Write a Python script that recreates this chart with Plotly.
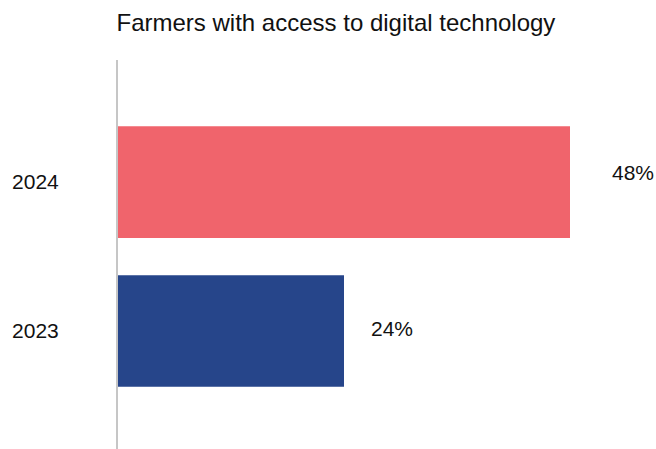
import plotly.graph_objects as go

years = ["2023", "2024"]
values = [24, 48]
bar_colors = ["#26458A", "#F0646C"]
value_labels = ["24%", "48%"]
label_pad_px = [25, 40]
label_lift_px = [3, 10]

title_text = "Farmers with access to digital technology"
FONT = "Liberation Sans, Arial, sans-serif"

fig = go.Figure()
fig.add_trace(go.Bar(
    y=years, x=values, orientation="h",
    marker=dict(color=bar_colors, line=dict(width=0)),
    width=0.75, hoverinfo="skip", showlegend=False,
))

for i, (v, lab, pad, lift) in enumerate(zip(values, value_labels, label_pad_px, label_lift_px)):
    fig.add_annotation(
        x=v, y=i, xref="x", yref="y", text=lab, showarrow=False,
        xanchor="left", yanchor="middle", xshift=pad, yshift=lift,
        font=dict(family=FONT, size=21, color="#111111"),
    )

fig.update_layout(
    width=656, height=449,
    margin=dict(l=118, r=0, t=60, b=0),
    paper_bgcolor="white", plot_bgcolor="white",
    title=dict(text=title_text, x=116.5 / 656, xref="container", xanchor="left",
               y=1 - 23 / 449, yref="container", yanchor="middle",
               font=dict(family=FONT, size=24, color="#111111")),
    font=dict(family=FONT, size=21, color="#111111"),
)
fig.update_xaxes(range=[0, 538 / (452 / 48)], visible=False, showgrid=False, zeroline=False)
fig.update_yaxes(
    type="category", range=[-0.792, 1.819],
    showline=True, linecolor="#C6C6C6", linewidth=2,
    showgrid=False, zeroline=False, ticks="",
    ticklabelstandoff=53,
    tickfont=dict(family=FONT, size=21, color="#111111"),
)

fig.write_html("out.html")
